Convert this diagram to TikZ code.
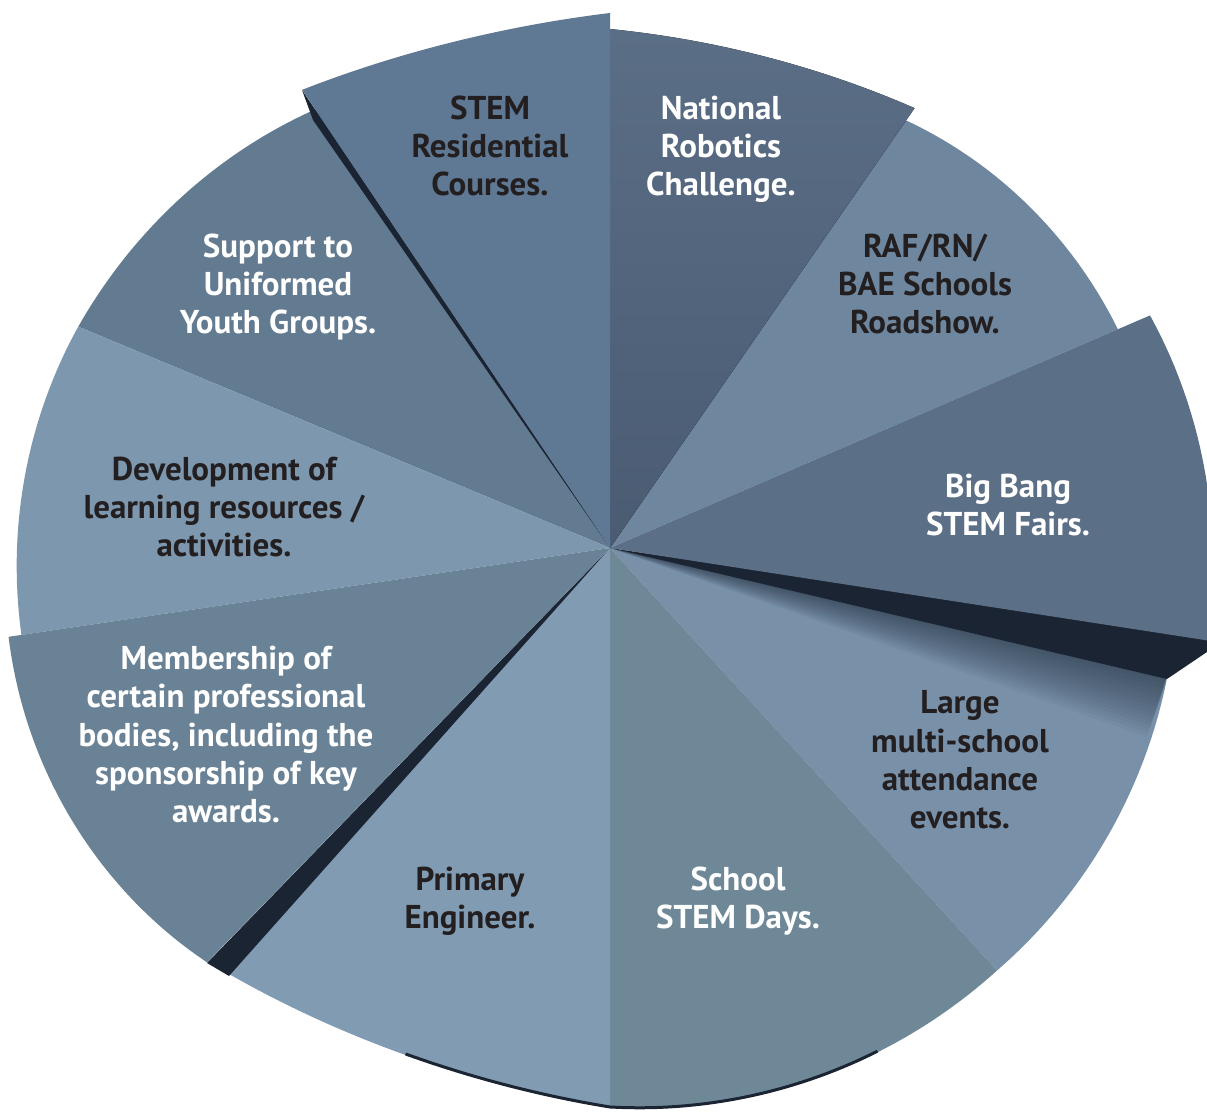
\documentclass[tikz,border=0pt]{standalone}
\usepackage{fontspec}
\setmainfont{PT Sans}
\definecolor{cNR}{HTML}{53667D}
\definecolor{cNRtop}{HTML}{5A6E86}
\definecolor{cNRbot}{HTML}{4A5B72}
\definecolor{cSR}{HTML}{5F7893}
\definecolor{cRAF}{HTML}{6E879F}
\definecolor{cBB}{HTML}{5B6F86}
\definecolor{cLG}{HTML}{7891A9}
\definecolor{cSD}{HTML}{6F8898}
\definecolor{cPE}{HTML}{819CB2}
\definecolor{cMB}{HTML}{6A8296}
\definecolor{cDV}{HTML}{7C97AE}
\definecolor{cSU}{HTML}{637B91}
\definecolor{cDark}{HTML}{1B2433}
\definecolor{cText}{HTML}{231F20}
% quadratic radius through (a1,r1),(am,rm),(a2,r2)
\newcommand\qrad[6]{(#2)*((\t-(#3))/((#1)-(#3)))*((\t-(#5))/((#1)-(#5)))+(#4)*((\t-(#1))/((#3)-(#1)))*((\t-(#5))/((#3)-(#5)))+(#6)*((\t-(#1))/((#5)-(#1)))*((\t-(#3))/((#5)-(#3)))}
\newcommand\pieslice[7]{%
  \fill[#1] (0,0) -- plot[domain=#2:#6,samples=60,variable=\t] (\t:{\qrad{#2}{#3}{#4}{#5}{#6}{#7}}) -- cycle;}
\tikzset{
  lbl/.style={font=\bfseries\fontsize{33}{38.4}\selectfont, align=center, inner sep=0pt, anchor=base},
  darklbl/.style={lbl, text=cText},
  lightlbl/.style={lbl, text=white},
  side/.style={fill=cDark}
}
\begin{document}
\begin{tikzpicture}[x=1pt,y=1pt]
\useasboundingbox (0,0) rectangle (1207,1113);
\begin{scope}[shift={(610,565)}]
  \coordinate (C) at (0,0);
  % Support to Uniformed Youth Groups
  \pieslice{cSU}{123}{527}{138}{550}{157.4}{576}
  % RAF
  \pieslice{cRAF}{23.3}{553}{40}{540}{56}{519}
  % Large multi-school
  \pieslice{cLG}{-47.5}{573}{-28}{575}{-13}{572}
  % soft shadow on Large under Big Bang
  \foreach \k in {1,...,16} {
    \fill[cDark, fill opacity=0.045] (C) -- (-12:572) -- (-13-\k*0.4:{572-\k*0.2}) -- cycle;
  }
  % School STEM Days
  \pieslice{cSD}{-90}{560}{-69}{569}{-47.5}{573}
  % Primary Engineer
  \pieslice{cPE}{-132}{572}{-114.6}{548}{-90}{560}
  % bottom rim
  \draw[cDark, line width=3pt] plot[domain=-112:-90,samples=30,variable=\t] (\t:{\qrad{-132}{572}{-114.6}{548}{-90}{560}-1});
  \draw[cDark, line width=3pt] plot[domain=-90:-62,samples=30,variable=\t] (\t:{\qrad{-90}{560}{-69}{569}{-47.5}{573}-1});
  % National Robotics
  \pieslice{top color=cNRtop, bottom color=cNRbot}{55.3}{535}{73}{515}{90}{519}
  % Development
  \pieslice{cDV}{157.4}{576}{180}{593}{188.4}{595}
  % Membership side and top
  \fill[side] (C) -- (-403,-415) -- (-381,-428) -- cycle;
  \pieslice{cMB}{188.4}{608}{202.5}{606}{225.8}{578}
  % STEM Residential side and top
  \fill[side] (C) -- (-308,458) -- (-297,428) -- cycle;
  \pieslice{cSR}{90}{535}{107.6}{530}{123.9}{552}
  % Big Bang side and top
  \fill[side] (C) -- (597,-88) -- (597,-104) -- (557,-131) -- cycle;
  \pieslice{cBB}{-8.8}{604}{7}{600}{23.3}{588}
\end{scope}
\node[darklbl]  (sr)  at (490,917) {STEM\\Residential\\Courses.};
\node[lightlbl] (nr)  at (721,917) {National\\Robotics\\Challenge.};
\node[darklbl]  (raf) at (925,779) {RAF/RN/\\BAE Schools\\Roadshow.};
\node[lightlbl] (bb)  at (1008,577) {Big Bang\\STEM Fairs.};
\node[darklbl]  (lg)  at (960,284) {Large\\multi-school\\attendance\\events.};
\node[lightlbl] (sd)  at (738,184) {School\\STEM Days.};
\node[darklbl]  (pe)  at (470,184) {Primary\\Engineer.};
\node[lightlbl] (mb)  at (226,290) {Membership of\\certain professional\\bodies, including the\\sponsorship of key\\awards.};
\node[darklbl]  (dv)  at (224,556) {Development of\\learning resources /\\activities.};
\node[lightlbl] (su)  at (278,779) {Support to\\Uniformed\\Youth Groups.};
\end{tikzpicture}
\end{document}
